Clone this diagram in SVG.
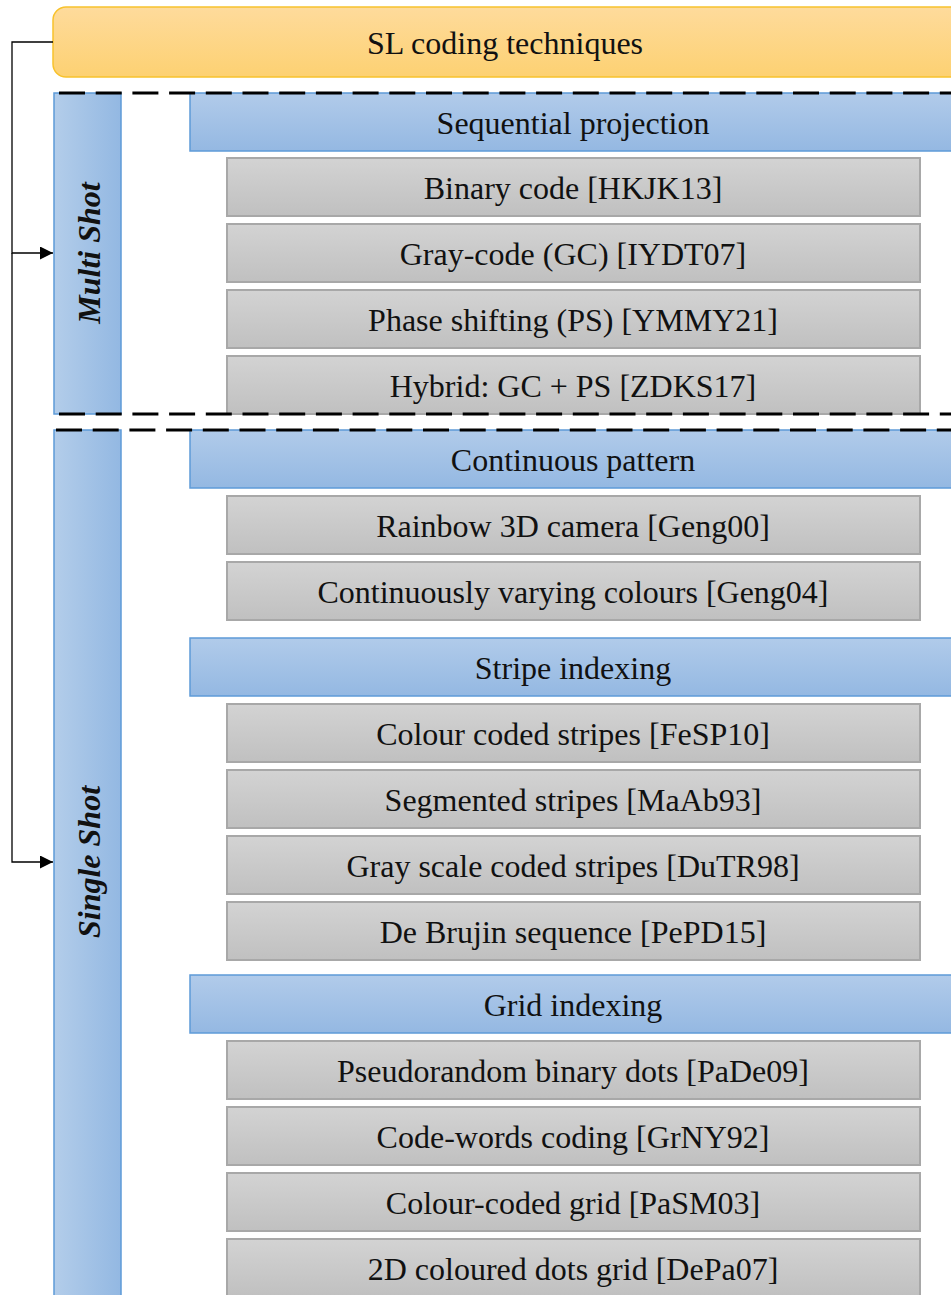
<svg xmlns="http://www.w3.org/2000/svg" width="951" height="1295" viewBox="0 0 951 1295">
  <defs>
    <linearGradient id="gOrange" x1="0" y1="0" x2="0" y2="1">
      <stop offset="0" stop-color="#fedb9c"/>
      <stop offset="1" stop-color="#fdd172"/>
    </linearGradient>
    <linearGradient id="gSide" x1="0" y1="0" x2="1" y2="0">
      <stop offset="0" stop-color="#b3cdea"/>
      <stop offset="1" stop-color="#93b8e2"/>
    </linearGradient>
    <linearGradient id="gHead" x1="0" y1="0" x2="0" y2="1">
      <stop offset="0" stop-color="#b1cbea"/>
      <stop offset="1" stop-color="#94b8e2"/>
    </linearGradient>
    <linearGradient id="gItem" x1="0" y1="0" x2="0" y2="1">
      <stop offset="0" stop-color="#d3d3d3"/>
      <stop offset="1" stop-color="#c0c0c0"/>
    </linearGradient>
    <marker id="arrow" viewBox="0 0 10 10" refX="10" refY="5" markerWidth="16" markerHeight="13" markerUnits="userSpaceOnUse" orient="auto">
      <path d="M0,0 L10,5 L0,10 z" fill="#000"/>
    </marker>
  </defs>
  <style>
    .t { font-family: "Liberation Serif", "Times New Roman", serif; font-size: 32px; fill: #111; text-anchor: middle; }
    .side { font-family: "Liberation Serif", "Times New Roman", serif; font-size: 32px; font-weight: bold; font-style: italic; fill: #111; text-anchor: middle; }
    .head { fill: url(#gHead); stroke: #5e9bd8; stroke-width: 1.5; }
    .item { fill: url(#gItem); stroke: #a8a8a8; stroke-width: 2; }
    .col { fill: url(#gSide); stroke: #5e9bd8; stroke-width: 1.5; }
    .dash { stroke: #000; stroke-width: 3; stroke-dasharray: 26 10.7; fill: none; }
    .conn { stroke: #000; stroke-width: 1.3; fill: none; }
  </style>

  <rect width="951" height="1295" fill="#fff"/>

  <!-- root -->
  <g id="root">
    <rect x="53" y="7" width="910" height="70" rx="13" fill="url(#gOrange)" stroke="#f8c22c" stroke-width="1.5"/>
    <text class="t" x="505" y="54">SL coding techniques</text>
  </g>

  <!-- category columns -->
  <g id="multi-shot">
    <rect class="col" x="54" y="93" width="67" height="321"/>
    <text class="side" transform="translate(100,253) rotate(-90)">Multi Shot</text>
  </g>
  <g id="single-shot">
    <rect class="col" x="54" y="430" width="67" height="880"/>
    <text class="side" transform="translate(100,862) rotate(-90)">Single Shot</text>
  </g>

  <!-- group headers -->
  <g id="sequential-projection">
    <rect class="head" x="190" y="93" width="780" height="58"/>
    <text class="t" x="573" y="134">Sequential projection</text>
  </g>
  <g id="continuous-pattern">
    <rect class="head" x="190" y="430" width="780" height="58"/>
    <text class="t" x="573" y="471">Continuous pattern</text>
  </g>
  <g id="stripe-indexing">
    <rect class="head" x="190" y="638" width="780" height="58"/>
    <text class="t" x="573" y="679">Stripe indexing</text>
  </g>
  <g id="grid-indexing">
    <rect class="head" x="190" y="975" width="780" height="58"/>
    <text class="t" x="573" y="1016">Grid indexing</text>
  </g>

  <!-- techniques -->
  <g id="binary-code"><rect class="item" x="227" y="158" width="693" height="58"/><text class="t" x="573" y="199">Binary code [HKJK13]</text></g>
  <g id="gray-code"><rect class="item" x="227" y="224" width="693" height="58"/><text class="t" x="573" y="265">Gray-code (GC) [IYDT07]</text></g>
  <g id="phase-shifting"><rect class="item" x="227" y="290" width="693" height="58"/><text class="t" x="573" y="331">Phase shifting (PS) [YMMY21]</text></g>
  <g id="hybrid"><rect class="item" x="227" y="356" width="693" height="58"/><text class="t" x="573" y="397">Hybrid: GC + PS [ZDKS17]</text></g>

  <g id="rainbow"><rect class="item" x="227" y="496" width="693" height="58"/><text class="t" x="573" y="537">Rainbow 3D camera [Geng00]</text></g>
  <g id="varying-colours"><rect class="item" x="227" y="562" width="693" height="58"/><text class="t" x="573" y="603">Continuously varying colours [Geng04]</text></g>

  <g id="colour-stripes"><rect class="item" x="227" y="704" width="693" height="58"/><text class="t" x="573" y="745">Colour coded stripes [FeSP10]</text></g>
  <g id="segmented-stripes"><rect class="item" x="227" y="770" width="693" height="58"/><text class="t" x="573" y="811">Segmented stripes [MaAb93]</text></g>
  <g id="gray-scale-stripes"><rect class="item" x="227" y="836" width="693" height="58"/><text class="t" x="573" y="877">Gray scale coded stripes [DuTR98]</text></g>
  <g id="de-brujin"><rect class="item" x="227" y="902" width="693" height="58"/><text class="t" x="573" y="943">De Brujin sequence [PePD15]</text></g>

  <g id="pseudorandom-dots"><rect class="item" x="227" y="1041" width="693" height="58"/><text class="t" x="573" y="1082">Pseudorandom binary dots [PaDe09]</text></g>
  <g id="code-words"><rect class="item" x="227" y="1107" width="693" height="58"/><text class="t" x="573" y="1148">Code-words coding [GrNY92]</text></g>
  <g id="colour-grid"><rect class="item" x="227" y="1173" width="693" height="58"/><text class="t" x="573" y="1214">Colour-coded grid [PaSM03]</text></g>
  <g id="coloured-dots"><rect class="item" x="227" y="1239" width="693" height="58"/><text class="t" x="573" y="1280">2D coloured dots grid [DePa07]</text></g>

  <!-- dashed group boundaries -->
  <g id="boundaries">
    <line class="dash" x1="59" y1="93" x2="951" y2="93"/>
    <line class="dash" x1="59" y1="414" x2="951" y2="414"/>
    <line class="dash" x1="56" y1="430" x2="951" y2="430"/>
  </g>

  <!-- connectors -->
  <g id="connectors">
    <path class="conn" d="M53,42 H12 V253 H53" marker-end="url(#arrow)"/>
    <path class="conn" d="M12,253 V862 H53" marker-end="url(#arrow)"/>
  </g>
</svg>
